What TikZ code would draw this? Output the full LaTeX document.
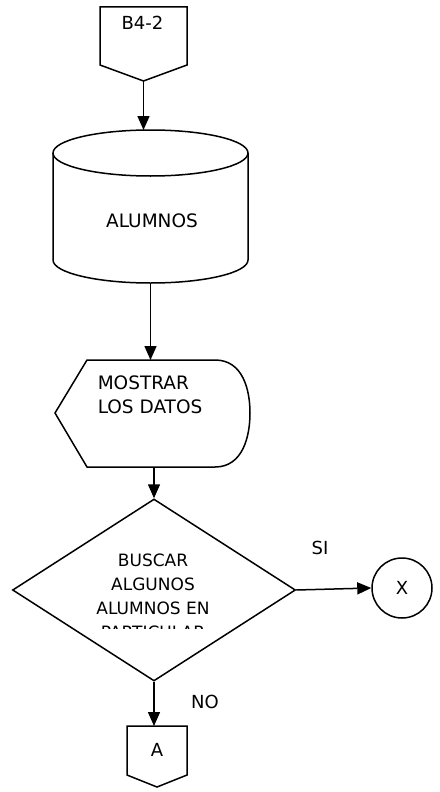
\documentclass[tikz,border=0pt]{standalone}
\usepackage{fontspec}
\setmainfont{DejaVu Sans}
\usetikzlibrary{arrows.meta,shapes.geometric}

\begin{document}
\begin{tikzpicture}[x=1pt, y=1pt, line width=1.5pt,
    flecha/.style={-{Triangle[width=12pt,length=14pt]}},
    texto/.style={font=\fontsize{18}{24}\selectfont, inner sep=0pt}]
    \useasboundingbox (0,0) rectangle (439,-792);

    % Conector B4-2
    \draw (100,-7) -- (187,-7) -- (187,-65) -- (143.5,-81) -- (100,-65) -- cycle;
    \node[texto] (b42) at (142.5,-23) {B4-2};
    \coordinate (b42bot) at (143.5,-81);

    % Cilindro ALUMNOS
    \draw (53,-153) -- (53,-260) arc[start angle=180, end angle=360, x radius=97.5, y radius=23] -- (248,-153);
    \draw (150.5,-153) ellipse [x radius=97.5, y radius=23];
    \node[texto, font=\fontsize{18.5}{24}\selectfont] (alumnos) at (152,-220.5) {ALUMNOS};
    \coordinate (cyltop) at (143.5,-130);
    \coordinate (cylbot) at (150.5,-283);

    % Pantalla MOSTRAR LOS DATOS
    \draw (87,-360) -- (215,-360) .. controls (243,-360) and (250,-390) .. (250,-413)
          .. controls (250,-436) and (243,-467) .. (215,-467) -- (87,-467) -- (55,-413) -- cycle;
    \node[texto, font=\fontsize{18.5}{24}\selectfont, align=left, anchor=north west] (mostrar) at (97,-375) {MOSTRAR\\LOS DATOS};
    \coordinate (disptop) at (150.5,-360);
    \coordinate (dispbot) at (154,-467);

    % Decision
    \node[diamond, draw, minimum width=283pt, minimum height=182pt, inner sep=0pt] (buscar) at (154,-590) {};
    \begin{scope}
        \clip (0,-450) rectangle (439,-628);
        \node[texto, font=\fontsize{17}{24}\selectfont, align=center, anchor=north] (buscartxt) at (153,-553) {BUSCAR\\ALGUNOS\\ALUMNOS EN\\PARTICULAR};
    \end{scope}

    % Conector X
    \node[texto, circle, draw, minimum size=60pt] (x) at (402,-588) {X};
    \node[texto] (si) at (320,-548) {SI};

    % Conector A
    \draw (127,-726) -- (187,-726) -- (187,-775) -- (157,-787) -- (127,-775) -- cycle;
    \node[texto] (a) at (157,-750) {A};
    \coordinate (atop) at (154,-726);
    \node[texto] (no) at (205,-702) {NO};

    % Flechas
    \draw[flecha] (b42bot) -- (cyltop);
    \draw[flecha] (cylbot) -- (disptop);
    \draw[flecha] (dispbot) -- (buscar.north);
    \draw[flecha] (buscar.east) -- (x.west);
    \draw[flecha] (buscar.south) -- (atop);
\end{tikzpicture}
\end{document}
